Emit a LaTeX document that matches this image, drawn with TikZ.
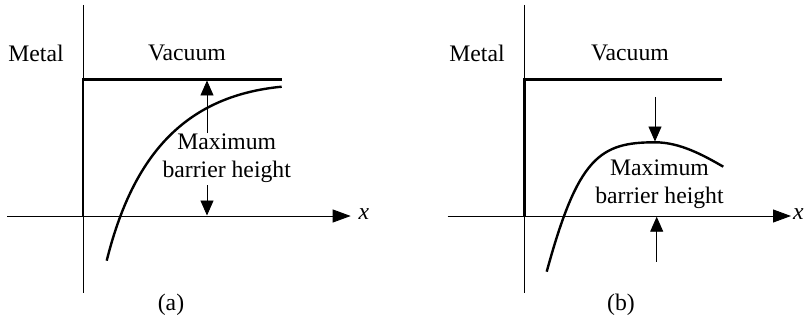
\documentclass[tikz,border=0pt]{standalone}
\usepackage{fontspec}
\setmainfont{Liberation Serif}
\usetikzlibrary{arrows.meta}
\begin{document}
\begin{tikzpicture}[x=1pt,y=-1pt,
  thinline/.style={line width=0.9pt},
  thickline/.style={line width=2.4pt, line join=miter},
  curveline/.style={line width=2.4pt},
  lbl/.style={font=\fontsize{23.7}{28.5}\selectfont, inner sep=0pt},
  arr/.style={line width=0.9pt, -{Triangle[length=15pt,width=13pt]}},
  axarr/.style={line width=0.9pt, -{Triangle[length=18pt,width=13pt]}}]
\useasboundingbox (0,0) rectangle (812,321);

% ---------- panel (a) ----------
\coordinate (aVt) at (83,5);
\coordinate (aVb) at (83,293);
\coordinate (aHl) at (7,216);
\coordinate (aHr) at (350.7,216);
\draw[thinline] (aVt) -- (aVb);
\draw[axarr] (aHl) -- (aHr);
\node[lbl] (ax) at (364,214) {\itshape x};
\coordinate (aC0) at (83,216);
\coordinate (aC1) at (83,79.5);
\coordinate (aC2) at (282,79.5);
\draw[thickline] (aC0) -- (aC1) -- (aC2);
\coordinate (aS) at (106.7,260.7);
\coordinate (aE) at (281.7,86.7);
\draw[curveline] (aS) .. controls (133,155) and (185,96) .. (aE);
\node[lbl] (ametal) at (36,53) {Metal};
\node[lbl] (avac) at (187,53) {Vacuum};
\node[lbl] (acap) at (171,305) {(a)};
\node[lbl, align=center] (amax) at (226.7,158) {Maximum\\barrier height};
\coordinate (aUp0) at (207,133);
\coordinate (aUp1) at (207,80.5);
\coordinate (aDn0) at (207,185);
\coordinate (aDn1) at (207,215.5);
\draw[arr] (aUp0) -- (aUp1);
\draw[arr] (aDn0) -- (aDn1);

% ---------- panel (b) ----------
\coordinate (bVt) at (524.3,5);
\coordinate (bVb) at (524.3,293);
\coordinate (bHl) at (447.7,216);
\coordinate (bHr) at (791,216);
\draw[thinline] (bVt) -- (bVb);
\draw[axarr] (bHl) -- (bHr);
\node[lbl] (bx) at (798.5,214) {\itshape x};
\coordinate (bC0) at (524.3,216);
\coordinate (bC1) at (524.3,79.5);
\coordinate (bC2) at (722,79.5);
\draw[thickline] (bC0) -- (bC1) -- (bC2);
\coordinate (bS) at (546.7,271.7);
\coordinate (bP) at (655,142.3);
\coordinate (bE) at (723.3,166.7);
\draw[curveline] (bS) .. controls (578,157) and (600,142.3) .. (bP)
                      .. controls (680,142.3) and (703.3,155.2) .. (bE);
\node[lbl] (bmetal) at (477,53) {Metal};
\node[lbl] (bvac) at (630,53) {Vacuum};
\node[lbl] (bcap) at (621,305) {(b)};
\node[lbl, align=center] (bmax) at (659.5,184) {Maximum\\barrier height};
\coordinate (bDn0) at (655,97);
\coordinate (bDn1) at (655,141.5);
\coordinate (bUp0) at (656.7,261.7);
\coordinate (bUp1) at (656.7,216.7);
\draw[arr] (bDn0) -- (bDn1);
\draw[arr] (bUp0) -- (bUp1);
\end{tikzpicture}
\end{document}
